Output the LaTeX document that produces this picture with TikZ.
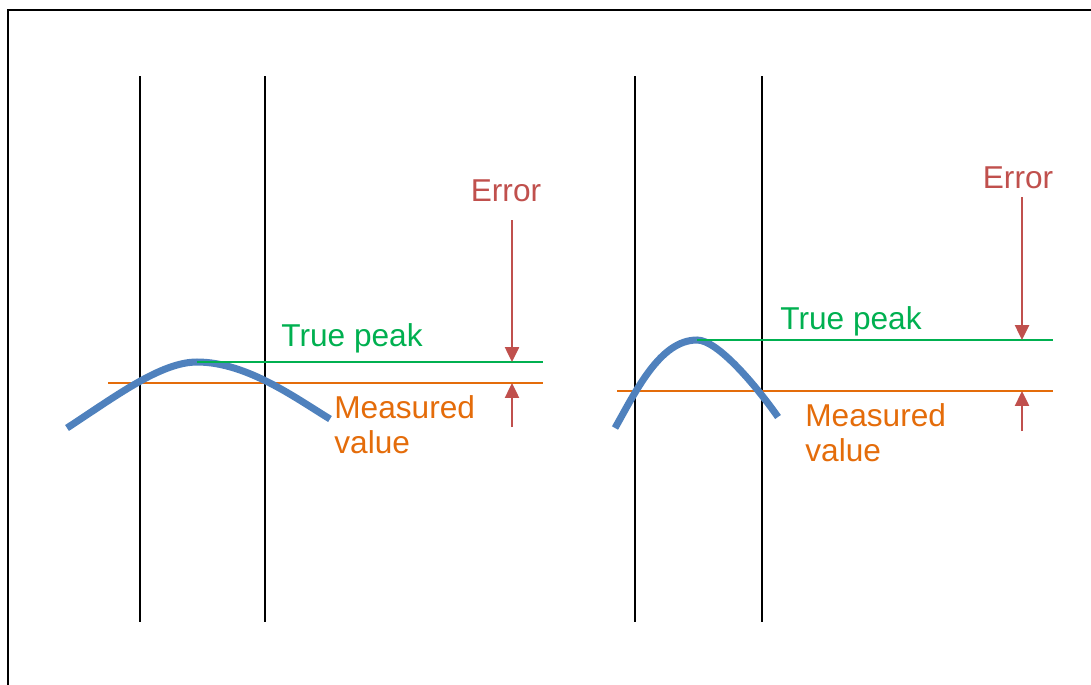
\documentclass[tikz,border=0pt]{standalone}
\usepackage{fontspec}
\setmainfont{Liberation Sans}
\usepackage{xcolor}
\usepackage{tikz}
\usetikzlibrary{positioning, arrows.meta}

\definecolor{curveblue}{RGB}{79,129,189}
\definecolor{peakgreen}{RGB}{0,176,80}
\definecolor{measorange}{RGB}{228,108,10}
\definecolor{errred}{RGB}{192,80,77}

\tikzset{
  bin/.style={line width=0.9pt, black},
  signal/.style={line width=4pt, curveblue},
  truepeak/.style={line width=1.6pt, peakgreen},
  measured/.style={line width=1.6pt, measorange},
  errarrow/.style={line width=1.2pt, errred, -{Triangle[width=8pt, length=8.5pt]}},
  lbl/.style={inner sep=0pt, font=\fontsize{18}{20}\selectfont}
}

\begin{document}
\begin{tikzpicture}[x=0.02cm, y=-0.02cm]
\useasboundingbox (0,0) rectangle (1091,684);
\draw[line width=1.1pt] (8,700) -- (8,10) -- (1100,10);

% left panel
\draw[bin] (140,76) -- (140,622);
\draw[bin] (265,76) -- (265,622);
\draw[measured] (108,383) -- (543,383);
\draw[signal] (67,428) .. controls (116,396) and (161,362) .. (197,362)
  .. controls (247,362) and (297,399) .. (330,419);
\draw[truepeak] (197,362) -- (543,362);
\node[lbl, text=peakgreen] (peakA) at (352,338) {True peak};
\node[lbl, text=measorange, align=left, anchor=west] (measA) at (334,425) {Measured\\value};
\node[lbl, text=errred] (errA) at (506,191) {Error};
\coordinate (errAtop) at (512,220);
\coordinate (errAhit) at (512,362);
\coordinate (errAbot) at (512,427);
\coordinate (errAup) at (512,383);
\draw[errarrow] (errAtop) -- (errAhit);
\draw[errarrow] (errAbot) -- (errAup);

% right panel
\draw[bin] (635,76) -- (635,622);
\draw[bin] (762,76) -- (762,622);
\draw[measured] (617,391) -- (1053,391);
\draw[signal] (615,428) .. controls (636,391) and (660,340) .. (697,340)
  .. controls (718,340) and (757,387) .. (778,417);
\draw[truepeak] (697,340) -- (1053,340);
\node[lbl, text=peakgreen] (peakB) at (851,321) {True peak};
\node[lbl, text=measorange, align=left, anchor=west] (measB) at (805,433) {Measured\\value};
\node[lbl, text=errred] (errB) at (1018,178) {Error};
\coordinate (errBtop) at (1022,197);
\coordinate (errBhit) at (1022,340);
\coordinate (errBbot) at (1022,431);
\coordinate (errBup) at (1022,391);
\draw[errarrow] (errBtop) -- (errBhit);
\draw[errarrow] (errBbot) -- (errBup);
\end{tikzpicture}
\end{document}
